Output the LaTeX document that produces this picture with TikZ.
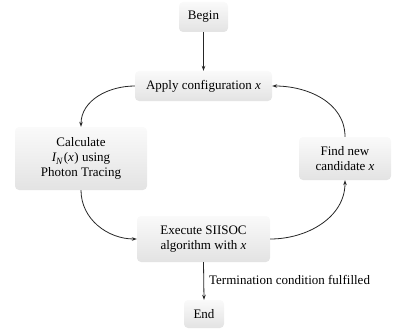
\documentclass[tikz,border=0pt]{standalone}
\usepackage{fontspec}
\setmainfont{Liberation Serif}
\usetikzlibrary{arrows.meta}
\newcommand{\mysubN}{\raisebox{-2.5pt}{\fontsize{9.5}{9.5}\selectfont\textit{N}}}
\tikzset{
  box/.style={rectangle, rounded corners=4pt, top color=gray!4, bottom color=gray!22,
    draw=none, align=center, inner sep=0pt, font=\fontsize{13}{15}\selectfont},
  conn/.style={draw=black!85, line width=0.8pt, -{Stealth[length=5pt,width=3.6pt]}},
  lbl/.style={font=\fontsize{13}{15}\selectfont, anchor=west, inner sep=0pt}
}
\begin{document}
\begin{tikzpicture}[x=1pt,y=1pt]
\useasboundingbox (0,0) rectangle (393,330);
\node[box, minimum width=49pt, minimum height=30pt] (begin) at (203.5,313) {Begin};
\node[box, minimum width=137pt, minimum height=30pt] (apply) at (203.5,244) {Apply configuration \textit{x}};
\node[box, minimum width=132pt, minimum height=63pt] (calc) at (81,171.5) {Calculate\\\textit{I}\kern-0.5pt\mysubN\kern1pt(\textit{x}\kern0.5pt) using\\Photon Tracing};
\node[box, minimum width=92pt, minimum height=43pt] (find) at (345,171.5) {Find new\\candidate \textit{x}};
\node[box, minimum width=133pt, minimum height=46pt] (exec) at (203.5,91) {Execute SIISOC\\algorithm with \textit{x}};
\node[box, minimum width=40pt, minimum height=28pt] (end) at (204,16) {End};
\draw[conn] (begin) -- (apply);
\draw[conn] (apply.west) to[out=180,in=90] (calc.north);
\draw[conn] (calc.south) to[out=-90,in=180] (exec.west);
\draw[conn] (exec.east) to[out=0,in=-90] (find.south);
\draw[conn] (find.north) to[out=90,in=0] (apply.east);
\draw[conn] (exec.south) -- node[lbl, xshift=5pt, yshift=1pt] (term) {Termination condition fulfilled} (end.north);
\end{tikzpicture}
\end{document}
